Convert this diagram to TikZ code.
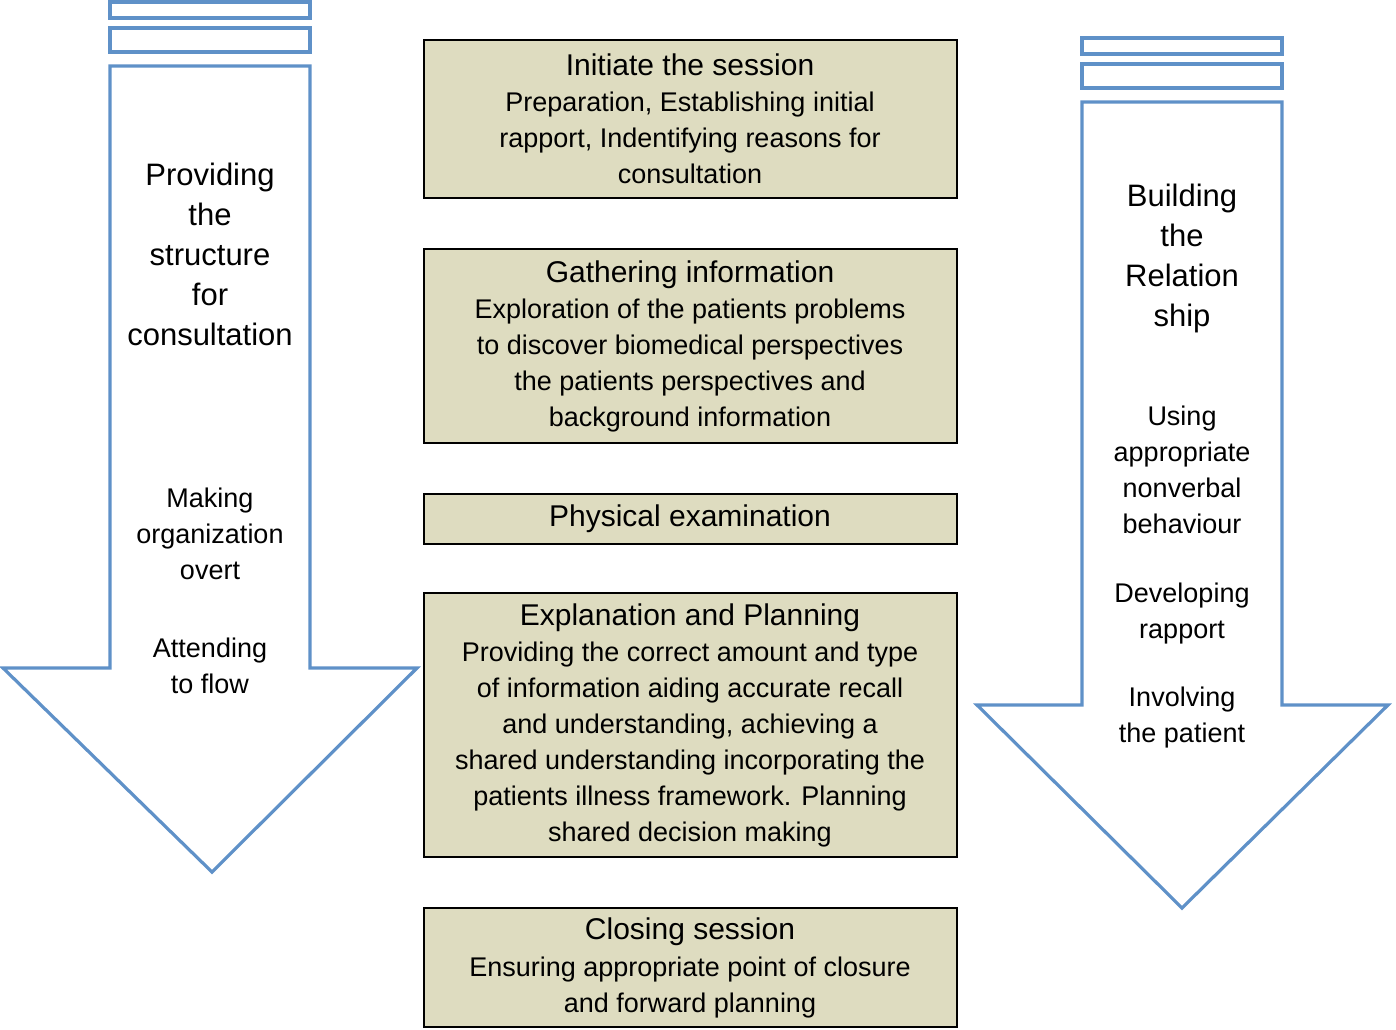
\documentclass[tikz,border=0pt]{standalone}
\usepackage{fontspec}
\setmainfont{Liberation Sans}
\definecolor{arr}{RGB}{95,145,200}
\definecolor{tan}{RGB}{222,220,192}
\begin{document}
\begin{tikzpicture}[x=1pt,y=-1pt,
  arrow/.style={draw=arr,line width=3.2pt,fill=white},
  box/.style={draw=black,line width=2pt,fill=tan},
  ttl/.style={font=\fontsize{30}{40}\selectfont,align=center,inner sep=0},
  bod/.style={font=\fontsize{27}{36}\selectfont,align=center,inner sep=0},
  side/.style={font=\fontsize{31}{40}\selectfont,align=center,inner sep=0}]
\useasboundingbox (0,0) rectangle (1396,1029);
% left arrow
\draw[arrow] (110,2) rectangle (310,18);
\draw[arrow] (110,28) rectangle (310,52);
\draw[arrow] (110,66) -- (310,66) -- (310,668) -- (417,668) -- (212,872) -- (3,668) -- (110,668) -- cycle;
% right arrow
\draw[arrow] (1082,38) rectangle (1282,54);
\draw[arrow] (1082,64) rectangle (1282,88);
\draw[arrow] (1082,102) -- (1282,102) -- (1282,705) -- (1388,705) -- (1182,908) -- (977,705) -- (1082,705) -- cycle;
% boxes
\draw[box] (424,40) rectangle (957,198);
\draw[box] (424,249) rectangle (957,443);
\draw[box] (424,494) rectangle (957,544);
\draw[box] (424,593) rectangle (957,857);
\draw[box] (424,908) rectangle (957,1027);
% box texts
\node[ttl] (t1) at (690,65) {Initiate the session};
\node[bod] (b1) at (690,138) {Preparation, Establishing initial\\rapport, Indentifying reasons for\\consultation};
\node[ttl] (t2) at (690,275) {Gathering information};
\node[bod] (b2) at (690,366) {Exploration of the patients problems\\to discover biomedical perspectives\\the patients perspectives and\\background information};
\node[ttl] (t3) at (690,519) {Physical examination};
\node[ttl] (t4) at (690,618) {Explanation and Planning};
\node[bod] (b4) at (690,745) {Providing the correct amount and type\\of information aiding accurate recall\\and understanding, achieving a\\shared understanding incorporating the\\patients illness framework. Planning\\shared decision making};
\node[ttl] (t5) at (690,932) {Closing session};
\node[bod] (b5) at (690,987) {Ensuring appropriate point of closure\\and forward planning};
% side texts
\node[side] (l1) at (210,254) {Providing\\the\\structure\\for\\consultation};
\node[bod] (l2) at (210,534) {Making\\organization\\overt};
\node[bod] (l3) at (210,666) {Attending\\to flow};
\node[side] (r1) at (1182,258) {Building\\the\\Relation\\ship};
\node[bod] (r2) at (1182,470) {Using\\appropriate\\nonverbal\\behaviour};
\node[bod] (r3) at (1182,614) {Developing\\rapport};
\node[bod] (r4) at (1182,718) {Involving\\the patient};
\end{tikzpicture}
\end{document}
